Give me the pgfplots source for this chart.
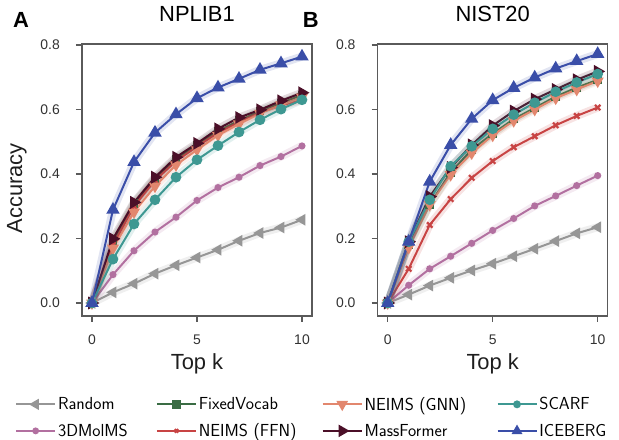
\documentclass[border=0pt]{standalone}
\usepackage{fontspec}
\setmainfont{Liberation Sans}
\usepackage{pgfplots}
\usepackage{pgfplotstable}
\pgfplotsset{compat=1.18}
\definecolor{randgray}{RGB}{150,150,150}
\definecolor{fixgreen}{RGB}{58,108,68}
\definecolor{gnnsal}{RGB}{226,135,110}
\definecolor{scarfteal}{RGB}{62,152,146}
\definecolor{molpink}{RGB}{178,112,160}
\definecolor{ffnred}{RGB}{200,68,68}
\definecolor{massmar}{RGB}{75,15,40}
\definecolor{iceblue}{RGB}{58,78,168}
\definecolor{axgray}{RGB}{90,90,90}
\definecolor{txtgray}{RGB}{50,50,50}

\pgfplotstableread{
k rand mol fixed ffn gnn mass scarf ice
0 0 0 0 0 0 0 0 0
1 0.033 0.088 0.190 0.180 0.170 0.199 0.136 0.289
2 0.060 0.162 0.308 0.300 0.282 0.312 0.245 0.437
3 0.091 0.220 0.385 0.380 0.362 0.390 0.320 0.528
4 0.117 0.266 0.445 0.440 0.428 0.452 0.390 0.585
5 0.141 0.318 0.490 0.485 0.475 0.495 0.444 0.635
6 0.165 0.358 0.533 0.528 0.520 0.540 0.488 0.668
7 0.193 0.390 0.565 0.560 0.555 0.575 0.530 0.695
8 0.217 0.426 0.595 0.590 0.588 0.599 0.568 0.723
9 0.234 0.454 0.620 0.612 0.614 0.627 0.601 0.743
10 0.258 0.487 0.645 0.630 0.638 0.652 0.630 0.764
}\nplib

\pgfplotstableread{
k rand mol fixed ffn gnn mass scarf ice
0 0 0 0 0 0 0 0 0
1 0.026 0.055 0.180 0.106 0.172 0.190 0.190 0.190
2 0.054 0.106 0.305 0.242 0.305 0.330 0.320 0.376
3 0.078 0.145 0.405 0.322 0.398 0.420 0.424 0.490
4 0.101 0.185 0.475 0.388 0.465 0.490 0.486 0.571
5 0.122 0.225 0.525 0.440 0.520 0.550 0.540 0.629
6 0.145 0.262 0.570 0.483 0.565 0.595 0.584 0.667
7 0.168 0.301 0.605 0.517 0.600 0.632 0.621 0.699
8 0.192 0.332 0.640 0.551 0.635 0.662 0.655 0.727
9 0.216 0.364 0.668 0.580 0.662 0.692 0.684 0.750
10 0.235 0.395 0.692 0.606 0.688 0.718 0.710 0.772
}\nist

\pgfplotsset{
  s rand/.style={randgray, line width=2bp, mark=triangle*, mark size=4.8bp, mark options={rotate=90, solid}},
  s mol/.style={molpink, line width=2bp, mark=*, mark size=2.5bp, mark options={solid}},
  s fixed/.style={fixgreen, line width=2bp, mark=square*, mark size=3.3bp, mark options={solid}},
  s ffn/.style={ffnred, line width=2bp, mark=x, mark size=3.8bp, mark options={solid, line width=2.2bp}},
  s gnn/.style={gnnsal, line width=2bp, mark=triangle*, mark size=5bp, mark options={rotate=180, solid}},
  s mass/.style={massmar, line width=2bp, mark=triangle*, mark size=5.5bp, mark options={rotate=-90, solid}},
  s scarf/.style={scarfteal, line width=2bp, mark=*, mark size=4.3bp, mark options={solid}},
  s ice/.style={iceblue, line width=2bp, mark=triangle*, mark size=5.8bp, mark options={solid}},
  panel/.style={
    scale only axis, width=230bp, height=272bp,
    xmin=-0.476, xmax=10.476, ymin=-0.0403, ymax=0.803,
    axis line style={axgray, line width=1.3bp},
    xtick={0,5,10}, ytick={0,0.2,0.4,0.6,0.8},
    tick align=outside, xtick pos=bottom, ytick pos=left,
    major tick length=6bp,
    every tick/.style={axgray, line width=1.2bp},
    /pgf/number format/assume math mode=true,
    yticklabel style={/pgf/number format/fixed, /pgf/number format/fixed zerofill, /pgf/number format/precision=1},
    tick label style={font=\fontsize{14}{16}\selectfont, text=txtgray},
    xticklabel style={anchor=north, inner sep=0pt, yshift=-13bp},
    yticklabel style={anchor=east, inner sep=0pt, xshift=-16bp},
    title style={at={(0.5,1)}, anchor=base, yshift=17bp, font=\fontsize{22}{26}\selectfont, inner sep=0pt},
    xlabel style={at={(axis description cs:0.5,-0.1985)}, anchor=base, inner sep=0pt, font=\fontsize{22}{26}\selectfont, text=txtgray!60!black},
    ylabel style={at={(axis description cs:-0.283,0.47)}, anchor=center, inner sep=0pt, font=\fontsize{22}{26}\selectfont, text=txtgray!60!black},
    xlabel={Top k},
    clip=false,
  },
}

\newcommand{\series}[3]{%
  \addplot[#3, line width=8bp, opacity=0.15, mark=none, forget plot] table[x=k, y=#2] {#1};
  \addplot[#3, forget plot] table[x=k, y=#2] {#1};
}
\newcommand{\allseries}[1]{%
  \series{#1}{rand}{s rand}
  \series{#1}{mol}{s mol}
  \series{#1}{fixed}{s fixed}
  \series{#1}{ffn}{s ffn}
  \series{#1}{gnn}{s gnn}
  \series{#1}{mass}{s mass}
  \series{#1}{scarf}{s scarf}
  \series{#1}{ice}{s ice}
}
\newcommand{\legtxt}[2]{\makebox[#1][l]{#2}}

\begin{document}
\begin{tikzpicture}
\useasboundingbox (0,0) rectangle (619bp,440bp);
\begin{axis}[panel, at={(82bp,124bp)}, anchor=south west, title={NPLIB1}, ylabel={Accuracy},
  legend columns=4,
  legend style={at={(axis description cs:-0.291,-0.29)}, anchor=north west, draw=none, fill=none,
    font=\sffamily\fontsize{17.5}{20}\selectfont, inner sep=0pt, row sep=8bp,
    cells={inner sep=0pt},
    /tikz/every odd column/.append style={column sep=0bp},
    /tikz/every even column/.append style={column sep=0bp}},
  legend image code/.code={\draw[mark repeat=2,mark phase=2] plot coordinates {(0bp,0bp) (19.5bp,0bp) (39bp,0bp)};}
  ]
\allseries{\nplib}
\addlegendimage{s rand, line width=1.8bp}\addlegendentry{\legtxt{96bp}{Random}}
\addlegendimage{s fixed, line width=1.8bp}\addlegendentry{\legtxt{121bp}{FixedVocab}}
\addlegendimage{s gnn, line width=1.8bp}\addlegendentry{\legtxt{130bp}{NEIMS (GNN)}}
\addlegendimage{s scarf, line width=1.8bp, mark size=3bp}\addlegendentry{\legtxt{76bp}{SCARF}}
\addlegendimage{s mol, line width=1.8bp}\addlegendentry{\legtxt{96bp}{3DMolMS}}
\addlegendimage{s ffn, line width=1.8bp, mark size=2.5bp}\addlegendentry{\legtxt{121bp}{NEIMS (FFN)}}
\addlegendimage{s mass, line width=1.8bp}\addlegendentry{\legtxt{130bp}{MassFormer}}
\addlegendimage{s ice, line width=1.8bp, mark size=4.5bp}\addlegendentry{\legtxt{76bp}{ICEBERG}}
\node[anchor=base west, inner sep=0pt, font=\bfseries\fontsize{22}{26}\selectfont] at ([xshift=-69bp, yshift=17bp]rel axis cs:0,1) {A};
\end{axis}
\begin{axis}[panel, at={(377.7bp,124bp)}, anchor=south west, title={NIST20}]
\allseries{\nist}
\node[anchor=base west, inner sep=0pt, font=\bfseries\fontsize{22}{26}\selectfont] at ([xshift=-75bp, yshift=17bp]rel axis cs:0,1) {B};
\end{axis}
\end{tikzpicture}
\end{document}
